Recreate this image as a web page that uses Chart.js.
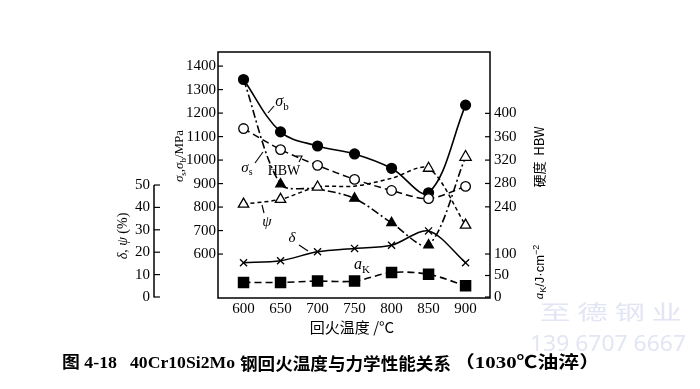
<!DOCTYPE html>
<html><head><meta charset="utf-8">
<script src="https://cdn.jsdelivr.net/npm/chart.js@4/dist/chart.umd.min.js"></script>
<style>html,body{margin:0;padding:0;background:#fff}canvas{display:block}</style>
</head><body>
<canvas id="c" width="700" height="389"></canvas>
<script>
// ---- data ----
const temps  = [600, 650, 700, 750, 800, 850, 900];
const xTicks = [600, 650, 700, 750, 800, 850, 900];
const sigmaB = [1343, 1120, 1060, 1026, 965, 861, 1234];   // MPa
const sigmaS = [1343, 898, 877, 837, 733, 638, 1013];      // MPa
const hbw    = [374, 338, 311, 287, 268, 254, 275];        // HBW
const psi    = [41.5, 43.6, 49.1, 49.5, 53, 57.5, 32.1];   // %
const delta  = [15.3, 16.2, 20.2, 21.7, 23.1, 29.5, 15.3]; // %
const aK     = [34, 34, 37, 37, 57, 53, 26];               // J/cm2
const mpaTicks = [600, 700, 800, 900, 1000, 1100, 1200, 1300, 1400];
const hbwTicks = [240, 280, 320, 360, 400];
const akTicks  = [0, 50, 100];
const dpTicks  = [0, 10, 20, 30, 40, 50];

const pts = arr => temps.map((t, i) => ({x: t, y: arr[i]}));
const SERIF = '"Liberation Serif", "DejaVu Serif", serif';
const CJK = '"Noto Sans CJK SC", sans-serif';
const tickFont = {family: SERIF, size: 15};

function line(ctx, x1, y1, x2, y2) { ctx.beginPath(); ctx.moveTo(x1, y1); ctx.lineTo(x2, y2); ctx.stroke(); }

// text stretched/squeezed to span x0..x1
function fitText(ctx, text, font, x0, x1, y) {
  ctx.save();
  ctx.font = font; ctx.textBaseline = 'middle'; ctx.textAlign = 'left';
  const w = ctx.measureText(text).width;
  ctx.translate(x0, y); ctx.scale((x1 - x0) / w, 1);
  ctx.fillText(text, 0, 0);
  ctx.restore();
}

// rich text: parts [{t, it, sub, sup, font}]
function rich(ctx, parts, x, y, rot, size, fam) {
  fam = fam || SERIF;
  ctx.save();
  ctx.translate(x, y); ctx.rotate(rot || 0);
  ctx.textBaseline = 'middle'; ctx.textAlign = 'left';
  const fontOf = p => {
    const s = (p.sub || p.sup) ? Math.round(size * 0.68) : size;
    return (p.it ? 'italic ' : '') + s + 'px ' + (p.font || fam);
  };
  let w = 0;
  parts.forEach(p => { ctx.font = fontOf(p); w += ctx.measureText(p.t).width; });
  let cx = -w / 2;
  parts.forEach(p => {
    ctx.font = fontOf(p);
    const dy = p.sub ? size * 0.3 : (p.sup ? -size * 0.3 : 0);
    ctx.fillText(p.t, cx, dy);
    cx += ctx.measureText(p.t).width;
  });
  ctx.restore();
}

const deco = {
  id: 'deco',
  afterDraw(chart) {
    const ctx = chart.ctx, a = chart.chartArea, sc = chart.scales;
    ctx.save();
    ctx.strokeStyle = '#000'; ctx.fillStyle = '#000';
    ctx.lineWidth = 1.5;
    ctx.strokeRect(a.left, a.top, a.right - a.left, a.bottom - a.top);
    ctx.lineWidth = 1.2;
    const tl = 5;
    sc.y.ticks.forEach(t => { const p = sc.y.getPixelForValue(t.value); line(ctx, a.left, p, a.left + tl, p); });
    sc.yR.ticks.forEach(t => { const p = sc.yR.getPixelForValue(t.value); line(ctx, a.right - tl, p, a.right, p); });
    // separate δ,ψ axis
    const xD = sc.yD.right;
    ctx.lineWidth = 1.5;
    line(ctx, xD, sc.yD.getPixelForValue(0) + 0.5, xD, sc.yD.getPixelForValue(50));
    ctx.lineWidth = 1.2;
    sc.yD.ticks.forEach(t => { const p = sc.yD.getPixelForValue(t.value); line(ctx, xD, p, xD + 6, p); });

    // axis titles
    rich(ctx, [{t:'σ', it:1}, {t:'s', sub:1}, {t:','}, {t:'σ', it:1}, {t:'b', sub:1}, {t:'/MPa'}], 180, 156, -Math.PI/2, 13);
    rich(ctx, [{t:'δ', it:1}, {t:', '}, {t:'ψ', it:1}, {t:' (%)'}], 123, 236, -Math.PI/2, 14);
    rich(ctx, [{t:'硬度  HBW'}], 539, 157, -Math.PI/2, 13, CJK);
    rich(ctx, [{t:'a', it:1, font: SERIF}, {t:'K', sub:1}, {t:'/J·cm'}, {t:'−2', sup:1}], 540, 272, -Math.PI/2, 13, '"Liberation Sans", sans-serif');
    rich(ctx, [{t:'回火温度 /°C'}], 352, 327, 0, 15, CJK);

    // curve labels
    rich(ctx, [{t:'σ', it:1}, {t:'b', sub:1}], 282, 102, 0, 16);
    rich(ctx, [{t:'σ', it:1}, {t:'s', sub:1}], 247, 168, 0, 15);
    rich(ctx, [{t:'HBW'}], 284, 171, 0, 14);
    rich(ctx, [{t:'ψ', it:1}], 267, 222, 0, 15);
    rich(ctx, [{t:'δ', it:1}], 292, 238, 0, 15);
    rich(ctx, [{t:'a', it:1}, {t:'K', sub:1}], 362, 265, 0, 16);
    // leaders
    ctx.lineWidth = 1.1;
    line(ctx, 274, 106, 268, 113);
    line(ctx, 255, 163, 263, 152);
    ctx.beginPath(); ctx.moveTo(296, 156); ctx.lineTo(302, 156); ctx.lineTo(299, 162); ctx.stroke();
    line(ctx, 262, 205, 264, 213);
    line(ctx, 299, 245, 308, 251);

    // caption
    const capFont = 'bold 17px "Liberation Serif", "Noto Sans CJK SC"';
    fitText(ctx, '图 4-18', capFont, 62, 117, 364);
    fitText(ctx, '40Cr10Si2Mo', capFont, 130, 235, 364);
    fitText(ctx, '钢回火温度与力学性能关系', 'bold 17px "Noto Sans CJK SC"', 240, 451, 364);
    fitText(ctx, '（1030℃油淬）', capFont, 454, 600, 364);

    // watermark
    ctx.fillStyle = '#e2e5f4';
    fitText(ctx, '至 德 钢 业', '20px "Noto Sans CJK SC", sans-serif', 540, 682, 312);
    fitText(ctx, '139 6707 6667', '22px "Noto Sans", sans-serif', 530, 686, 345);
    ctx.restore();
  }
};

const noGrid = {display: false, drawTicks: false};

new Chart(document.getElementById('c'), {
  type: 'line',
  data: {
    datasets: [
      {label: 'σb', data: pts(sigmaB), yAxisID: 'y', borderColor: '#000', borderWidth: 1.6, tension: 0.35,
       pointStyle: 'circle', pointRadius: 4.8, pointBackgroundColor: '#000', pointBorderColor: '#000', order: 2},
      {label: 'σs', data: pts(sigmaS), yAxisID: 'y', borderColor: '#000', borderWidth: 1.6, tension: 0.3,
       borderDash: [8, 3, 2, 3],
       pointStyle: 'triangle', pointRadius: [0, 5.5, 0, 5.5, 5.5, 5.5, 6.5],
       pointBackgroundColor: ['#000', '#000', '#000', '#000', '#000', '#000', '#fff'], pointBorderColor: '#000', pointBorderWidth: 1.3, order: 3},
      {label: 'HBW', data: pts(hbw), yAxisID: 'yR', borderColor: '#000', borderWidth: 1.5, tension: 0.3,
       borderDash: [7, 4],
       pointStyle: 'circle', pointRadius: 4.8, pointBackgroundColor: '#fff', pointBorderColor: '#000', pointBorderWidth: 1.3, order: 1},
      {label: 'ψ', data: pts(psi), yAxisID: 'yD', borderColor: '#000', borderWidth: 1.5, tension: 0.3,
       borderDash: [4, 3],
       pointStyle: 'triangle', pointRadius: [6, 6, 6, 0, 0, 6, 6], pointBackgroundColor: '#fff', pointBorderColor: '#000', pointBorderWidth: 1.3, order: 1},
      {label: 'δ', data: pts(delta), yAxisID: 'yD', borderColor: '#000', borderWidth: 1.5, tension: 0.3,
       pointStyle: 'crossRot', pointRadius: 5, pointBorderColor: '#000', pointBorderWidth: 1.3, order: 4},
      {label: 'aK', data: pts(aK), yAxisID: 'yAK', borderColor: '#000', borderWidth: 1.6, tension: 0.3,
       borderDash: [7, 4],
       pointStyle: 'rect', pointRadius: 7, pointBackgroundColor: '#000', pointBorderColor: '#000', order: 4}
    ]
  },
  options: {
    responsive: false, animation: false, events: [],
    layout: {padding: {left: 100, right: 160, top: 52, bottom: 69}},
    plugins: {legend: {display: false}, tooltip: {enabled: false}},
    scales: {
      x: {type: 'linear', position: 'bottom', min: 565.5, max: 933,
          afterBuildTicks: s => { s.ticks = xTicks.map(v => ({value: v})); },
          afterFit: s => { s.height = 22; },
          grid: noGrid, border: {display: false},
          ticks: {font: tickFont, color: '#000', padding: 2, autoSkip: false, maxRotation: 0, callback: v => String(v)}},
      y: {type: 'linear', position: 'left', min: 413, max: 1460, weight: 0,
          afterBuildTicks: s => { s.ticks = mpaTicks.map(v => ({value: v})); },
          afterFit: s => { s.width = 64; },
          grid: noGrid, border: {display: false},
          ticks: {font: tickFont, color: '#000', padding: 2, autoSkip: false, callback: v => String(v)}},
      yD: {type: 'linear', position: 'left', min: -0.45, max: 109.4, weight: 1,
          afterBuildTicks: s => { s.ticks = dpTicks.map(v => ({value: v})); },
          afterFit: s => { s.width = 54; },
          grid: noGrid, border: {display: false},
          ticks: {font: tickFont, color: '#000', padding: 4, autoSkip: false, callback: v => String(v)}},
      yR: {type: 'linear', position: 'right', min: 84, max: 505,
          afterBuildTicks: s => {
            const ak = s.chart.options.scales.yAK;
            const toH = v => s.min + (v - ak.min) / (ak.max - ak.min) * (s.max - s.min);
            s.ticks = hbwTicks.map(v => ({value: v})).concat(akTicks.map(v => ({value: toH(v)})));
          },
          afterFit: s => { s.width = 50; },
          grid: noGrid, border: {display: false},
          ticks: {font: tickFont, color: '#000', padding: 4, autoSkip: false,
                  callback: (v, i) => i < hbwTicks.length ? String(hbwTicks[i]) : String(akTicks[i - hbwTicks.length])}},
      yAK: {type: 'linear', position: 'right', display: false, min: -2.3, max: 569.8}
    }
  },
  plugins: [deco]
});
</script>
</body></html>
